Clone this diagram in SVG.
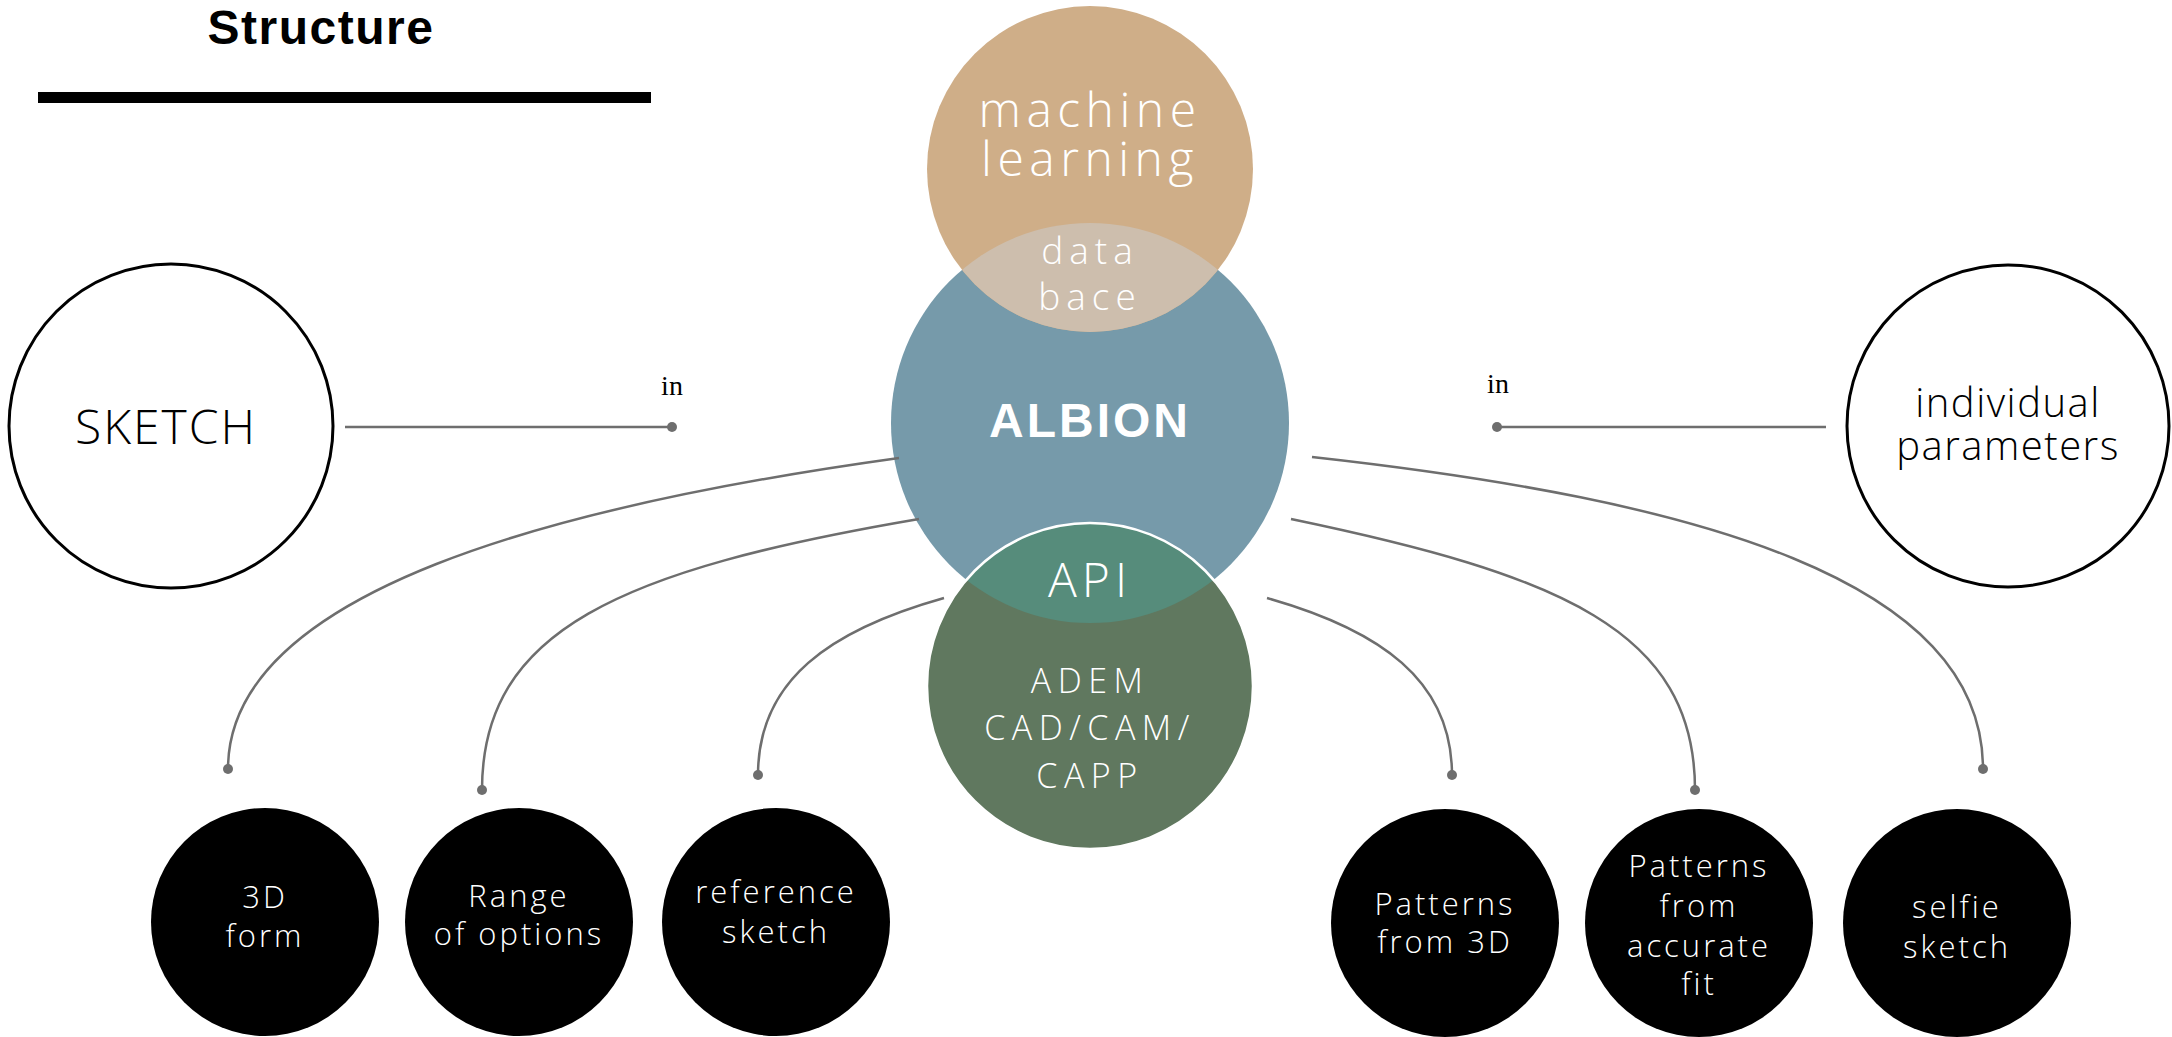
<svg xmlns="http://www.w3.org/2000/svg" width="2172" height="1037" viewBox="0 0 2172 1037">
<style>
.t{font-family:"Open Sans","Liberation Sans",sans-serif;font-weight:300;text-anchor:middle}
.w{fill:#ffffff}
.k{fill:#000000}
.small{font-size:31px;letter-spacing:3px}
.conn{fill:none;stroke:#6e6e6e;stroke-width:2.5}
.dot{fill:#6e6e6e}
.lbl{font-family:"Liberation Serif","Times New Roman",serif;font-size:28px;fill:#000;text-anchor:middle}
</style>
<defs>
<clipPath id="albClip"><ellipse cx="1090" cy="423" rx="199" ry="200"/></clipPath>
</defs>
<rect width="2172" height="1037" fill="#ffffff"/>
<g id="title">
<text x="321" y="44" style="font-family:'Liberation Sans',Arial,sans-serif;font-weight:bold;font-size:48px;letter-spacing:1.5px" text-anchor="middle" fill="#000">Structure</text>
<rect x="38" y="92" width="613" height="11" fill="#000"/>
</g>
<g id="sketch">
<circle cx="171" cy="426" r="162" fill="#fff" stroke="#000" stroke-width="3"/>
<text class="t k" x="166" y="444" style="font-size:48px;letter-spacing:2px">SKETCH</text>
</g>
<g id="individual-parameters">
<circle cx="2008" cy="426" r="161" fill="#fff" stroke="#000" stroke-width="3"/>
<text class="t k" x="2008" y="417" style="font-size:40px;letter-spacing:1.5px">individual</text>
<text class="t k" x="2008" y="460" style="font-size:40px;letter-spacing:1.5px">parameters</text>
</g>
<g id="albion">
<ellipse cx="1090" cy="423" rx="199" ry="200" fill="#769aaa"/>
</g>
<g id="machine-learning">
<circle cx="1090" cy="169" r="163" fill="#cfae88"/>
<circle cx="1090" cy="169" r="163" fill="#cdbead" clip-path="url(#albClip)"/>
<text class="t w" x="1090" y="127" style="font-size:48px;letter-spacing:5.5px">machine</text>
<text class="t w" x="1090" y="176" style="font-size:48px;letter-spacing:5.5px">learning</text>
</g>
<g id="data-base">
<text class="t w" x="1090" y="264" style="font-size:37px;letter-spacing:6px">data</text>
<text class="t w" x="1090" y="310" style="font-size:37px;letter-spacing:6px">bace</text>
</g>
<g id="albion-label">
<text x="1090" y="437" text-anchor="middle" style="font-family:'Liberation Sans',Arial,sans-serif;font-weight:bold;font-size:48px;letter-spacing:3px" fill="#fff">ALBION</text>
</g>
<g id="adem">
<circle cx="1090" cy="686" r="163" fill="#60785f"/>
<circle cx="1090" cy="686" r="163" fill="#568c7b" clip-path="url(#albClip)"/>
<circle cx="1090" cy="686" r="163" fill="none" stroke="#ffffff" stroke-width="2.5"/>
<text class="t w" x="1090" y="597" style="font-size:48px;letter-spacing:5px">API</text>
<text class="t w" x="1090" y="693" style="font-size:34px;letter-spacing:6.5px">ADEM</text>
<text class="t w" x="1090" y="740" style="font-size:34px;letter-spacing:6.5px">CAD/CAM/</text>
<text class="t w" x="1090" y="788" style="font-size:34px;letter-spacing:6.5px">CAPP</text>
</g>
<g id="form3d">
<circle cx="265" cy="922" r="114" fill="#000"/>
<text class="t w small" x="265" y="908">3D</text>
<text class="t w small" x="265" y="947">form</text>
</g>
<g id="range-options">
<circle cx="519" cy="922" r="114" fill="#000"/>
<text class="t w small" x="519" y="907">Range</text>
<text class="t w small" x="519" y="945">of options</text>
</g>
<g id="reference-sketch">
<circle cx="776" cy="922" r="114" fill="#000"/>
<text class="t w small" x="776" y="903">reference</text>
<text class="t w small" x="776" y="943">sketch</text>
</g>
<g id="patterns-3d">
<circle cx="1445" cy="923" r="114" fill="#000"/>
<text class="t w small" x="1445" y="915">Patterns</text>
<text class="t w small" x="1445" y="953">from 3D</text>
</g>
<g id="patterns-fit">
<circle cx="1699" cy="923" r="114" fill="#000"/>
<text class="t w small" x="1699" y="877">Patterns</text>
<text class="t w small" x="1699" y="917">from</text>
<text class="t w small" x="1699" y="957">accurate</text>
<text class="t w small" x="1699" y="995">fit</text>
</g>
<g id="selfie-sketch">
<circle cx="1957" cy="923" r="114" fill="#000"/>
<text class="t w small" x="1957" y="918">selfie</text>
<text class="t w small" x="1957" y="958">sketch</text>
</g>
<g id="connectors">
<path class="conn" d="M345 427 H672"/>
<circle class="dot" cx="672" cy="427" r="5"/>
<text class="lbl" x="672" y="395">in</text>
<path class="conn" d="M1826 427 H1497"/>
<circle class="dot" cx="1497" cy="427" r="5"/>
<text class="lbl" x="1498" y="393">in</text>
<path class="conn" d="M899 458 C560 505 228 590 228 769"/>
<circle class="dot" cx="228" cy="769" r="5"/>
<path class="conn" d="M919 519 C620 570 482 630 482 790"/>
<circle class="dot" cx="482" cy="790" r="5"/>
<path class="conn" d="M944 598 C830 630 758 680 758 775"/>
<circle class="dot" cx="758" cy="775" r="5"/>
<path class="conn" d="M1267 598 C1380 630 1452 680 1452 775"/>
<circle class="dot" cx="1452" cy="775" r="5"/>
<path class="conn" d="M1291 519 C1560 575 1695 630 1695 790"/>
<circle class="dot" cx="1695" cy="790" r="5"/>
<path class="conn" d="M1312 457 C1700 500 1983 580 1983 769"/>
<circle class="dot" cx="1983" cy="769" r="5"/>
</g>
</svg>
